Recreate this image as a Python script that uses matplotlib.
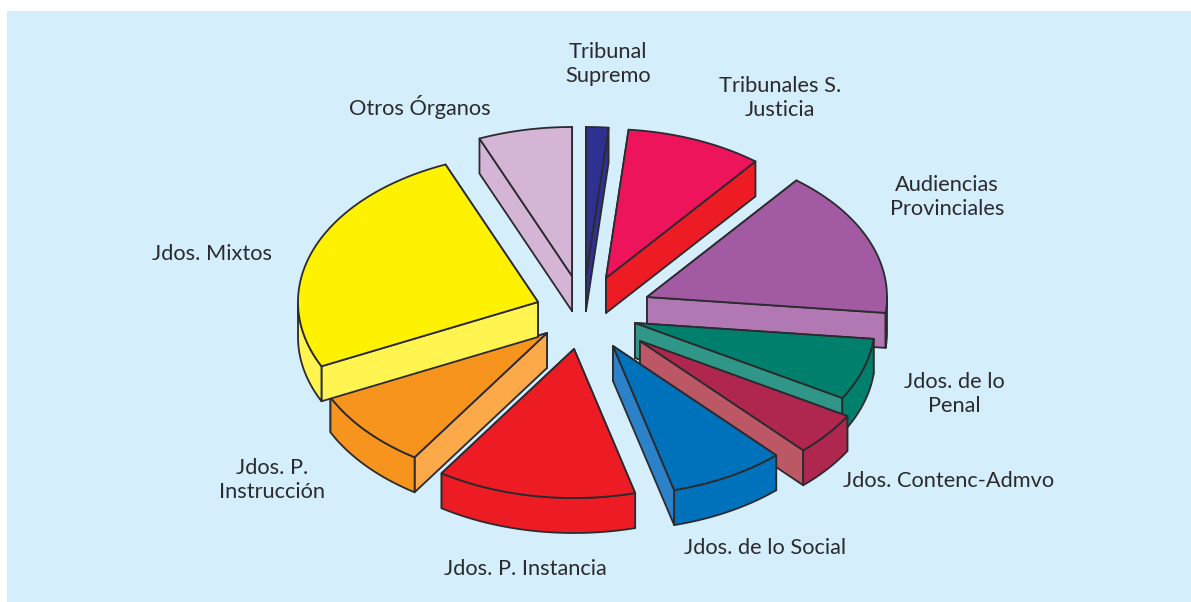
import numpy as np
import matplotlib
matplotlib.use('Agg')
import matplotlib.pyplot as plt
from matplotlib.patches import Polygon, Rectangle

plt.rcParams['font.family'] = ['Lato', 'DejaVu Sans']

# clockwise from the top of the pie
categorias = ['Tribunal Supremo', 'Tribunales S. Justicia', 'Audiencias Provinciales',
              'Jdos. de lo Penal', 'Jdos. Contenc-Admvo', 'Jdos. de lo Social',
              'Jdos. P. Instancia', 'Jdos. P. Instrucción', 'Jdos. Mixtos', 'Otros Órganos']
valores = [1.5, 9.2, 16.0, 6.7, 4.7, 7.8, 13.4, 8.6, 25.8, 6.3]

etiquetas = ['Tribunal\nSupremo', 'Tribunales S.\nJusticia', 'Audiencias\nProvinciales',
             'Jdos. de lo\nPenal', 'Jdos. Contenc-Admvo', 'Jdos. de lo Social',
             'Jdos. P. Instancia', 'Jdos. P.\nInstrucción', 'Jdos. Mixtos', 'Otros Órganos']

# styles and layout
col_top = ['#2E3192', '#ED145B', '#A25BA2', '#00806C', '#AF274E', '#0072BC', '#ED1C24', '#F7941D', '#FFF200', '#D4B5D5']
col_cut = ['#2E3192', '#ED1C24', '#B278B4', '#2F9688', '#BC5766', '#2B82C9', '#ED1C24', '#FBA949', '#FFF450', '#D4B5D5']
col_wall = ['#2E3192', '#ED1C24', '#B278B4', '#00806C', '#AF274E', '#0072BC', '#ED1C24', '#F7941D', '#FFF450', '#D4B5D5']
punta_x = [586, 606, 647, 635, 640, 613, 574, 547, 538, 572]
punta_y = [276, 278, 297, 323, 341, 346, 349, 333, 302, 276]
etiq_x = [608, 780, 947, 954, 949, 765, 525, 272, 212, 420]
etiq_y = [64, 98, 197, 394, 481, 548, 569, 480, 254, 107]
orden = [0, 1, 9, 2, 3, 4, 5, 7, 8, 6]

rx, ry, alto = 240, 149, 35
borde = '#2B2A2E'
lw = 1.3

fig = plt.figure(figsize=(11.91, 6.02), dpi=100)
ax = fig.add_axes([0, 0, 1, 1])
ax.set_xlim(0, 1191)
ax.set_ylim(602, 0)
ax.axis('off')
ax.add_patch(Rectangle((7, 11), 1184, 591, fc='#D5EEFB', ec='none', zorder=0))

angulos = np.concatenate([[0], np.cumsum(valores) / np.sum(valores) * 2 * np.pi])


def poligono(pts, color, z):
    ax.add_patch(Polygon(pts, closed=True, fc=color, ec=borde, lw=lw, joinstyle='round', zorder=z))


z = 1
for i in orden:
    tx, ty = punta_x[i], punta_y[i]
    a0, a1 = angulos[i], angulos[i + 1]
    t = np.linspace(a0, a1, 80)
    xs = tx + rx * np.sin(t)
    ys = ty - ry * np.cos(t)
    arco = np.column_stack([xs, ys])
    p0, p1 = arco[0], arco[-1]

    # cut faces: hidden ones first so the visible one stays on top
    caras = []
    for p, q in ((p0, p1), (p1, p0)):
        lado_q = (p[0] - tx) * (q[1] - ty) - (p[1] - ty) * (q[0] - tx)
        lado_abajo = p[0] - tx
        visible = lado_q * lado_abajo < 0
        caras.append((visible, p))
    caras.sort(key=lambda c: c[0])
    for visible, p in caras:
        pts = [(tx, ty), p, (p[0], p[1] + alto), (tx, ty + alto)]
        poligono(pts, col_cut[i], z)
        z += 1

    # outer wall, only the lower half of the rim shows
    a_ini, a_fin = max(a0, np.pi / 2), min(a1, 3 * np.pi / 2)
    if a_fin > a_ini:
        tw = np.linspace(a_ini, a_fin, 80)
        wx = tx + rx * np.sin(tw)
        wy = ty - ry * np.cos(tw)
        pts = np.vstack([np.column_stack([wx, wy]), np.column_stack([wx, wy + alto])[::-1]])
        poligono(pts, col_wall[i], z)
        z += 1

    poligono(np.vstack([[tx, ty], arco]), col_top[i], z)
    z += 1

for x, y, s in zip(etiq_x, etiq_y, etiquetas):
    ax.text(x, y, s, ha='center', va='center', fontsize=15.7, color='#2B2A2E',
            linespacing=1.25, zorder=100)

fig.savefig('out.png', dpi=100)
